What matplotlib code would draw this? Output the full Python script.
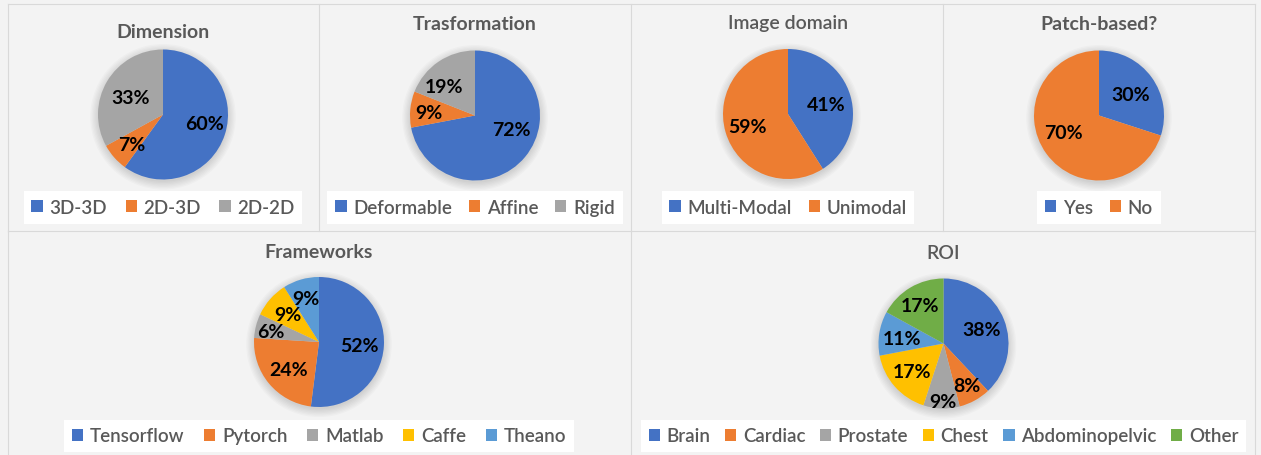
import matplotlib
matplotlib.use('Agg')
import numpy as np
import matplotlib.pyplot as plt
from matplotlib.patches import Circle

W, H, DPI = 1261, 456, 100
plt.rcParams['font.family'] = ['Lato', 'DejaVu Sans']

# ---------------- data ----------------
dim_labels = ['3D-3D', '2D-3D', '2D-2D']
dim_values = [60, 7, 33]
trans_labels = ['Deformable', 'Affine', 'Rigid']
trans_values = [72, 9, 19]
domain_labels = ['Multi-Modal', 'Unimodal']
domain_values = [41, 59]
patch_labels = ['Yes', 'No']
patch_values = [30, 70]
fw_labels = ['Tensorflow', 'Pytorch', 'Matlab', 'Caffe', 'Theano']
fw_values = [52, 24, 6, 9, 9]
roi_labels = ['Brain', 'Cardiac', 'Prostate', 'Chest', 'Abdominopelvic', 'Other']
roi_values = [38, 8, 9, 17, 11, 17]

# ---------------- style ----------------
BLUE, ORANGE, GRAY = '#4472C4', '#ED7D31', '#A5A5A5'
YELLOW, LBLUE, GREEN = '#FFC000', '#5B9BD5', '#70AD47'
PALETTE = [BLUE, ORANGE, GRAY, YELLOW, LBLUE, GREEN]
TXT = '#595959'
LINE = '#D9D9D9'
BG = '#F3F3F3'

fig = plt.figure(figsize=(W / DPI, H / DPI), dpi=DPI, facecolor=BG)

# background / panel borders in pixel coordinates
bg = fig.add_axes([0, 0, 1, 1])
bg.set_xlim(0, W)
bg.set_ylim(H, 0)
bg.axis('off')
bg.patch.set_alpha(0)
lw = 0.8
bg.plot([8, 1255], [5, 5], color=LINE, lw=lw)
bg.plot([8, 1255], [232, 232], color=LINE, lw=lw)
for x in (8, 319, 631, 943, 1255):
    bg.plot([x, x], [5, 232], color=LINE, lw=lw)
for x in (8, 631, 1255):
    bg.plot([x, x], [232, H + 2], color=LINE, lw=lw)

# panels: (title, title weight, labels, values, pie centre, title y, legend y,
#          label radii, label angle shifts, legend column spacing)
panels = [
    ('Dimension', 'bold', dim_labels, dim_values, (163, 115.5), 33, 208.5,
     [0.65, 0.67, 0.56], [6, 3, 3], 1.0),
    ('Trasformation', 'bold', trans_labels, trans_values, (475, 116.5), 25, 208.5,
     [0.60, 0.71, 0.66], [18, 2, 13], 0.9),
    ('Image domain', 'semibold', domain_labels, domain_values, (788, 115), 24, 208.5,
     [0.61, 0.66], [-3, 1], 0.9),
    ('Patch-based?', 'bold', patch_labels, patch_values, (1099, 116.5), 25, 208.5,
     [0.59, 0.61], [-2, -10], 0.9),
    ('Frameworks', 'bold', fw_labels, fw_values, (319, 343), 253, 437,
     [0.62, 0.63, 0.76, 0.63, 0.70], [-2, 2, 2, 0, 0], 1.05),
    ('ROI', 'semibold', roi_labels, roi_values, (943.5, 344.5), 254, 437,
     [0.62, 0.74, 0.89, 0.65, 0.64, 0.68], [-2, 0, 1, 1, 2, 1], 0.78),
]

R = 65  # pie radius, px

for (title, tw, labels, values, (cx, cy), ty, ly, radii, shifts, cs) in panels:
    ax = fig.add_axes([(cx - R) / W, 1 - (cy + R) / H, 2 * R / W, 2 * R / H])
    # soft glow/shadow
    for k in range(7):
        ax.add_patch(Circle((0, -0.035), 1.0 + 0.02 * k, color='k',
                            alpha=0.02, lw=0, clip_on=False, zorder=0))
    wedges, _t, autotexts = ax.pie(
        values, colors=PALETTE[:len(values)], startangle=90, counterclock=False,
        radius=1, autopct=lambda p: f'{p:.0f}%',
        wedgeprops=dict(linewidth=0, zorder=2),
        textprops=dict(fontsize=14, fontweight='bold', color='black'))
    for w, t, r, s in zip(wedges, autotexts, radii, shifts):
        mid = np.deg2rad((w.theta1 + w.theta2) / 2 + s)
        t.set_position((r * np.cos(mid), r * np.sin(mid)))
        t.set_zorder(5)
    ax.set_xlim(-1, 1)
    ax.set_ylim(-1, 1)
    ax.set_aspect('auto')
    ax.axis('off')

    fig.text(cx / W, 1 - ty / H, title, ha='center', va='center',
             fontsize=14, fontweight=tw, color=TXT)

    leg = ax.legend(wedges, labels, loc='center',
                    bbox_to_anchor=(cx / W, 1 - ly / H),
                    bbox_transform=fig.transFigure, ncol=len(labels),
                    frameon=True, fancybox=False,
                    prop=dict(size=13.5, weight='semibold'),
                    handlelength=0.6, handleheight=0.6, handletextpad=0.35,
                    columnspacing=cs, borderpad=0.42, borderaxespad=0,
                    labelcolor=TXT)
    fr = leg.get_frame()
    fr.set_facecolor('white')
    fr.set_edgecolor('none')
    fr.set_alpha(1)

fig.savefig('out.png', dpi=DPI, facecolor=BG)
